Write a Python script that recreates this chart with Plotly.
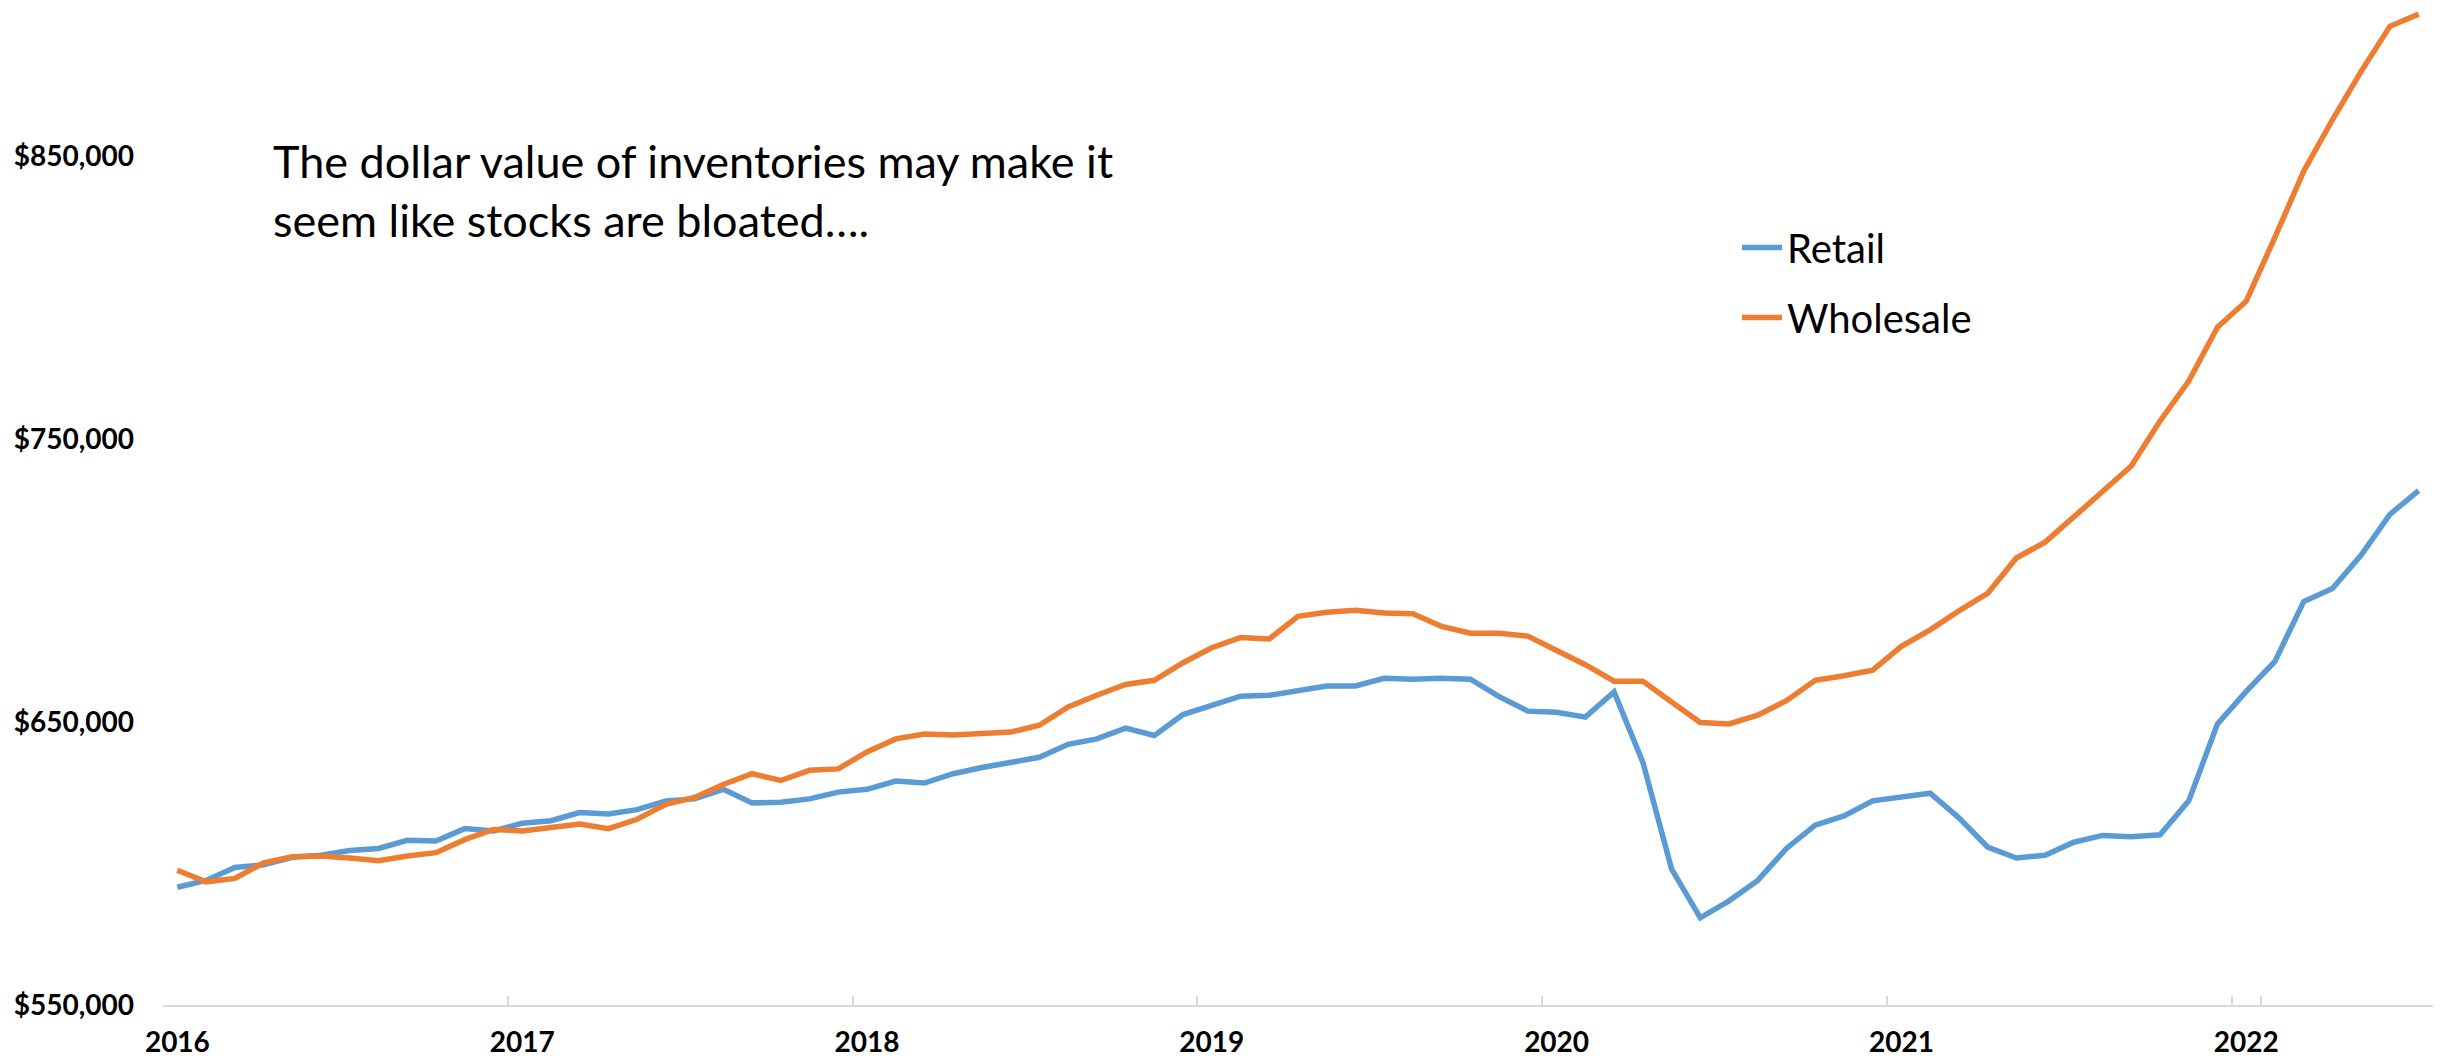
import plotly.graph_objects as go

years = [2016, 2017, 2018, 2019, 2020, 2021, 2022]
months = [f"{y}-{m:02d}" for y in years for m in range(1, 13)][:79]
year_ticks = [f"{y}-01" for y in years]
year_labels = [str(y) for y in years]

retail = [
    591.6, 594.0, 598.6, 599.5, 602.2, 602.9, 604.6, 605.3, 608.2, 607.9, 612.3, 611.5,
    614.2, 615.1, 618.0, 617.5, 619.0, 622.1, 622.8, 626.2, 621.4, 621.6, 622.8, 625.2,
    626.2, 629.1, 628.4, 631.7, 633.9, 635.8, 637.5, 642.1, 644.0, 647.8, 645.2, 652.6,
    655.8, 659.1, 659.4, 661.1, 662.7, 662.7, 665.4, 665.1, 665.4, 665.1, 658.9, 653.8,
    653.4, 651.7, 660.6, 635.8, 598.1, 580.8, 586.8, 594.0, 605.3, 613.5, 616.8, 622.1,
    623.6, 624.8, 616.1, 605.8, 601.9, 602.9, 607.5, 609.9, 609.4, 610.1, 622.1, 649.3,
    660.8, 671.4, 692.5, 697.1, 708.9, 723.3, 731.7,
]
wholesale = [
    597.6, 593.5, 594.7, 600.2, 602.4, 602.6, 601.9, 601.0, 602.6, 603.8, 608.4, 612.0,
    611.5, 612.7, 613.9, 612.3, 615.6, 620.9, 623.3, 627.9, 631.7, 629.3, 632.9, 633.4,
    639.4, 644.0, 645.7, 645.4, 645.7, 646.4, 648.8, 655.3, 659.4, 663.2, 664.7, 670.9,
    676.2, 679.8, 679.3, 687.3, 688.7, 689.4, 688.5, 688.2, 683.7, 681.3, 681.3, 680.3,
    675.2, 670.2, 664.4, 664.4, 657.0, 649.8, 649.3, 652.4, 657.5, 664.7, 666.3, 668.3,
    676.7, 682.5, 689.2, 695.4, 707.9, 713.5, 722.4, 731.3, 740.4, 756.3, 770.4, 789.4,
    798.6, 821.2, 844.5, 862.7, 879.8, 895.7, 900.0,
]
y_ticks = [550000, 650000, 750000, 850000]

font_family = "Lato, 'Open Sans', sans-serif"

W, H = 2443, 1062
ML, MR, MT, MB = 163, 10, 0, 57
PW, PH = W - ML - MR, H - MT - MB

fig = go.Figure()
fig.add_trace(go.Scatter(
    x=months, y=[v * 1000 for v in retail], mode="lines", name="Retail",
    line=dict(color="#5B9BD5", width=5.5), legendgroup="r",
))
fig.add_trace(go.Scatter(
    x=months, y=[v * 1000 for v in wholesale], mode="lines", name="Wholesale",
    line=dict(color="#ED7D31", width=5.5), legendgroup="w",
))

fig.update_layout(
    width=W, height=H,
    margin=dict(l=ML, r=MR, t=MT, b=MB, autoexpand=False),
    paper_bgcolor="white", plot_bgcolor="white",
    font=dict(family=font_family, color="black"),
    showlegend=True,
    legend=dict(
        x=(1737 - ML) / PW, y=1 - 215 / PH, xanchor="left", yanchor="top",
        font=dict(size=40, color="black", family=font_family),
        traceorder="grouped", tracegroupgap=15,
        bgcolor="rgba(0,0,0,0)", itemwidth=40,
    ),
    xaxis=dict(
        type="category", categoryorder="array", categoryarray=months,
        range=[-0.5, 78.5],
        tickmode="array", tickvals=year_ticks, ticktext=year_labels,
        tickson="boundaries", tickangle=0,
        ticks="inside", ticklen=9, tickwidth=1.5, tickcolor="#D9D9D9",
        ticklabelstandoff=11,
        showline=True, linecolor="#D9D9D9", linewidth=2,
        showgrid=False, zeroline=False,
        tickfont=dict(size=28, family=font_family, color="black", weight="bold"),
    ),
    yaxis=dict(
        range=[550000, 905000],
        tickmode="array", tickvals=y_ticks,
        tickformat="$,.0f",
        showgrid=False, zeroline=False, showline=False, ticks="",
        ticklabelstandoff=28,
        tickfont=dict(size=28, family=font_family, color="black", weight="bold"),
    ),
    annotations=[dict(
        xref="paper", yref="paper",
        x=(271 - ML) / PW, y=1 - 132 / PH,
        xanchor="left", yanchor="top", align="left", showarrow=False,
        text="The dollar value of inventories may make it<br>seem like stocks are bloated….",
        font=dict(size=45, family=font_family, color="black"),
    )],
)

fig.write_html(
    "out.html",
    config={"displayModeBar": False},
    post_script="document.body.style.margin='0';",
)
